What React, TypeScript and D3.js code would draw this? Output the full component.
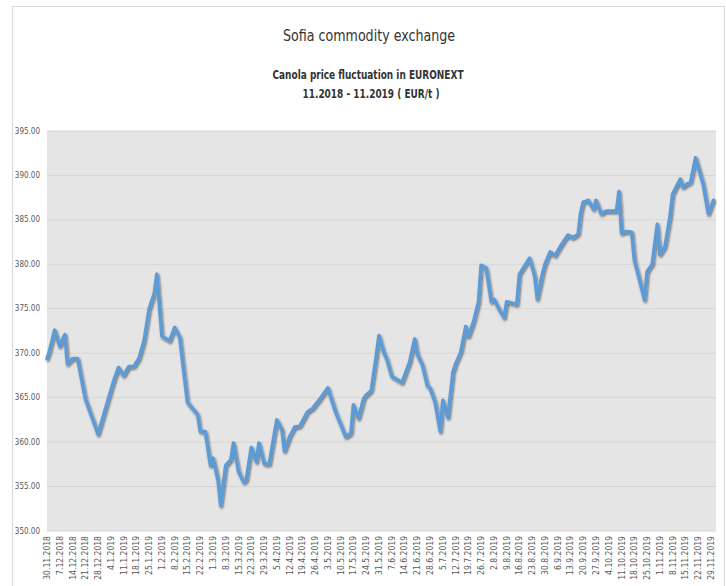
import * as d3 from 'd3';

const weekLabels = [
  '30.11.2018', '7.12.2018', '14.12.2018', '21.12.2018', '28.12.2018',
  '4.1.2019', '11.1.2019', '18.1.2019', '25.1.2019', '1.2.2019',
  '8.2.2019', '15.2.2019', '22.2.2019', '1.3.2019', '8.3.2019',
  '15.3.2019', '22.3.2019', '29.3.2019', '5.4.2019', '12.4.2019',
  '19.4.2019', '26.4.2019', '3.5.2019', '10.5.2019', '17.5.2019',
  '24.5.2019', '31.5.2019', '7.6.2019', '14.6.2019', '21.6.2019',
  '28.6.2019', '5.7.2019', '12.7.2019', '19.7.2019', '26.7.2019',
  '2.8.2019', '9.8.2019', '16.8.2019', '23.8.2019', '30.8.2019',
  '6.9.2019', '13.9.2019', '20.9.2019', '27.9.2019', '4.10.2019',
  '11.10.2019', '18.10.2019', '25.10.2019', '1.11.2019', '8.11.2019',
  '15.11.2019', '22.11.2019', '29.11.2019',
];

// trading day index (5 per week label) where the price line turns
const tradingDay = [
  0, 1, 3, 5, 7, 8, 10, 12, 15, 20, 25, 26, 28, 30, 32, 34, 36, 38, 40, 42, 43,
  45, 48, 50, 52, 53, 55, 57, 59, 60, 62, 64, 65, 67, 68, 70, 72, 73, 75, 77, 78,
  80, 82, 83, 85, 87, 90, 92, 93, 95, 97, 99, 102, 104, 107, 110, 113, 117, 119,
  120, 122, 124, 125, 127, 129, 130, 132, 133, 135, 139, 142, 144, 145, 147, 149,
  150, 152, 154, 155, 157, 159, 160, 162, 164, 165, 167, 169, 170, 172, 174, 175,
  177, 179, 180, 184, 185, 189, 191, 192, 194, 195, 197, 199, 201, 204, 206, 208,
  209, 210, 212, 214, 215, 217, 219, 223, 224, 225, 227, 229, 230, 232, 234, 235,
  237, 239, 240, 242, 244, 245, 248, 249, 251, 252, 254, 256, 257, 259, 261,
];

const price = [
  369.4, 370.3, 372.6, 370.8, 372.1, 368.8, 369.4, 369.4, 364.9, 360.9, 365.8,
  366.8, 368.4, 367.5, 368.5, 368.5, 369.4, 371.4, 375.0, 376.7, 378.9,
  371.9, 371.4, 372.9, 371.8, 369.3, 364.5, 363.8, 363.1, 361.2, 361.2, 357.4,
  358.2, 355.7, 352.9, 357.4, 358.0, 359.9, 356.7, 355.5, 355.7,
  359.4, 357.8, 359.9, 357.6, 357.5, 362.5, 361.4, 359.0, 360.6, 361.7, 361.8,
  363.4, 363.8, 364.9, 366.1, 363.4, 360.6, 361.0,
  364.2, 362.7, 364.9, 365.3, 365.8, 369.8, 372.0, 370.0, 369.4, 367.4, 366.7,
  369.0, 371.6, 369.9, 368.7, 366.3,
  366.1, 364.5, 361.2, 364.7, 362.8, 367.9, 368.8, 370.1, 373.0, 371.9, 373.5,
  375.8, 379.9, 379.6, 375.8, 376.1,
  375.0, 374.0, 375.8, 375.5, 378.9, 380.7, 378.7, 376.1, 378.9, 380.0, 381.4,
  381.0, 382.0, 383.3, 383.0, 383.4,
  385.8, 387.0, 387.2, 386.2, 387.2, 385.7, 386.0, 386.0, 388.2, 383.5, 383.7,
  383.6, 380.5, 378.3, 376.0, 379.2,
  380.0, 384.5, 381.1, 382.0, 385.4, 387.9, 389.6, 388.7, 389.1, 389.2, 392.0,
  390.0, 389.0, 385.7, 387.2,
];

const yTicks = [350, 355, 360, 365, 370, 375, 380, 385, 390, 395];

const WIDTH = 726;
const HEIGHT = 586;
const plot = { left: 47, right: 716, top: 131, bottom: 531 };
const font = '"DejaVu Sans Condensed", "Liberation Sans Narrow", sans-serif';

export default function App() {
  const x = d3.scaleLinear()
    .domain([0, 262])
    .range([plot.left, plot.right]);

  const y = d3.scaleLinear()
    .domain([350, 395])
    .range([plot.bottom, plot.top]);

  const points = tradingDay.map((d, i) => ({ day: d, value: price[i] }));

  const line = d3.line<{ day: number; value: number }>()
    .x(d => x(d.day))
    .y(d => y(d.value));

  return (
    <svg
      width={WIDTH}
      height={HEIGHT}
      style={{ position: 'absolute', left: 0, top: 0, background: '#fff' }}
    >
      <defs>
        <filter id="shadow" x="-5%" y="-5%" width="110%" height="110%">
          <feDropShadow dx="1" dy="1.5" stdDeviation="1" floodColor="#000" floodOpacity="0.55" />
        </filter>
      </defs>

      {/* chart frame */}
      <rect x={12.5} y={6.5} width={712} height={590} fill="#fff" stroke="#d9d9d9" />

      {/* titles, squeezed to the narrow look of the original */}
      <text
        x={369}
        y={41}
        textAnchor="middle"
        fontFamily={font}
        fontSize={16}
        fill="#333"
        textLength={172}
        lengthAdjust="spacingAndGlyphs"
      >
        Sofia commodity exchange
      </text>
      <text
        x={368}
        y={79}
        textAnchor="middle"
        fontFamily={font}
        fontSize={12.5}
        fontWeight="bold"
        fill="#333"
        textLength={191}
        lengthAdjust="spacingAndGlyphs"
      >
        Canola price fluctuation in EURONEXT
      </text>
      <text
        x={371}
        y={98}
        textAnchor="middle"
        fontFamily={font}
        fontSize={12.5}
        fontWeight="bold"
        fill="#333"
        textLength={137}
        lengthAdjust="spacingAndGlyphs"
      >
        11.2018 - 11.2019 ( EUR/t )
      </text>

      {/* plot background */}
      <rect
        x={plot.left}
        y={plot.top}
        width={plot.right - plot.left}
        height={plot.bottom - plot.top}
        fill="#e5e5e5"
      />

      {/* y grid and labels */}
      {yTicks.map(t => (
        <g key={t} transform={`translate(0,${y(t)})`}>
          <line x1={plot.left} x2={plot.right} stroke="#d6d6d6" strokeWidth={1} />
          <text
            x={40}
            dy="0.32em"
            textAnchor="end"
            fontFamily={font}
            fontSize={8}
            fill="#595959"
          >
            {t.toFixed(2)}
          </text>
        </g>
      ))}

      {/* x labels, one per week */}
      {weekLabels.map((label, i) => (
        <text
          key={label}
          transform={`translate(${x(i * 5) + 3},${plot.bottom + 5}) rotate(-90)`}
          textAnchor="end"
          fontFamily={font}
          fontSize={8.5}
          fill="#595959"
        >
          {label}
        </text>
      ))}

      {/* price line */}
      <path
        d={line(points) || ''}
        fill="none"
        stroke="#5b9bd5"
        strokeWidth={3.5}
        strokeLinejoin="round"
        strokeLinecap="round"
        filter="url(#shadow)"
      />
    </svg>
  );
}
